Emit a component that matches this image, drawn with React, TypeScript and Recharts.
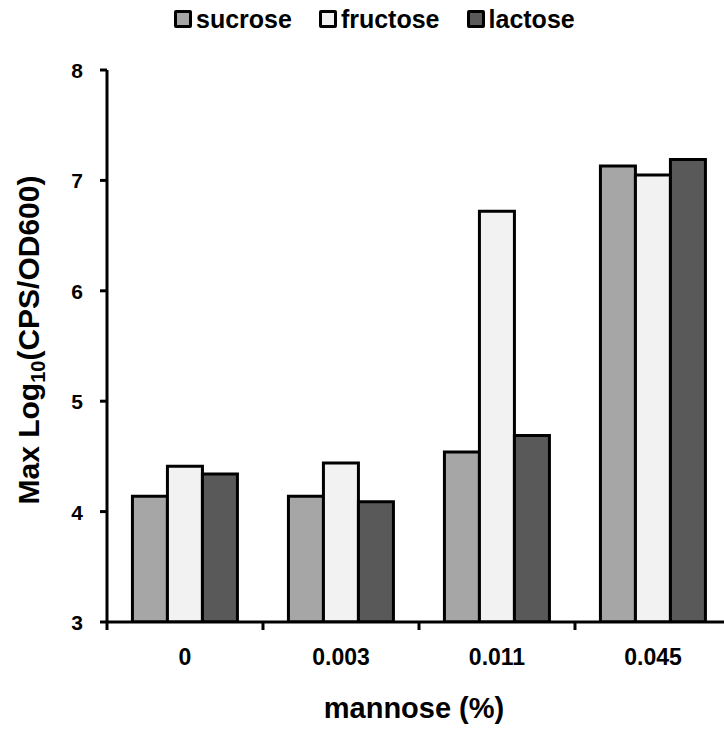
import { BarChart, Bar, XAxis, YAxis } from 'recharts';

const categories = ['0', '0.003', '0.011', '0.045'];
const sucrose = [4.14, 4.14, 4.54, 7.13];
const fructose = [4.41, 4.44, 6.72, 7.05];
const lactose = [4.34, 4.09, 4.69, 7.19];
const yTicks = [3, 4, 5, 6, 7, 8];

const seriesList = [
  { key: 'sucrose', name: 'sucrose', color: '#a6a6a6' },
  { key: 'fructose', name: 'fructose', color: '#f2f2f2' },
  { key: 'lactose', name: 'lactose', color: '#595959' },
];

const font = '"Liberation Sans", Arial, sans-serif';

// one row per mannose concentration
const chartData = categories.map((cat, i) => ({
  cat,
  sucrose: sucrose[i],
  fructose: fructose[i],
  lactose: lactose[i],
}));

// label in the middle of the band, tick mark on the band's left edge
function XTick(props: any) {
  const { x, y, payload } = props;
  const half = payload && payload.offset ? payload.offset : 0;
  return (
    <g>
      <line x1={x - half} x2={x - half} y1={y - 8} y2={y} stroke="#000" strokeWidth={3} />
      <text x={x} y={y + 35} textAnchor="middle" fontFamily={font} fontWeight="bold" fontSize={23} fill="#000">
        {payload.value}
      </text>
    </g>
  );
}

function YTick(props: any) {
  const { x, y, payload } = props;
  return (
    <text x={x} y={y + 8} textAnchor="end" fontFamily={font} fontWeight="bold" fontSize={21} fill="#000">
      {payload.value}
    </text>
  );
}

function LegendBox() {
  return (
    <div
      style={{
        position: 'absolute',
        top: 5,
        left: 174,
        display: 'flex',
        alignItems: 'center',
        fontFamily: font,
        fontWeight: 'bold',
        fontSize: 25,
      }}
    >
      {seriesList.map((s, i) => (
        <div key={s.key} style={{ display: 'flex', alignItems: 'center', marginLeft: i === 0 ? 0 : 27 }}>
          <span
            style={{
              display: 'inline-block',
              width: 12,
              height: 12,
              border: '3px solid #000',
              borderRadius: 2,
              background: s.color,
              marginRight: 4,
            }}
          />
          <span style={{ color: '#000', lineHeight: '28px' }}>{s.name}</span>
        </div>
      ))}
    </div>
  );
}

// axis titles, drawn under the chart svg (which is transparent)
function AxisTitles() {
  return (
    <svg width={724} height={730} style={{ position: 'absolute', left: 0, top: 0 }}>
      <text
        x={39}
        y={340}
        transform="rotate(-90, 39, 340)"
        textAnchor="middle"
        fontFamily={font}
        fontWeight="bold"
        fontSize={30}
        fill="#000"
      >
        <tspan>Max Log</tspan>
        <tspan fontSize={20} dy={6}>10</tspan>
        <tspan dy={-6}>(CPS/OD600)</tspan>
      </text>
      <text x={414} y={718} textAnchor="middle" fontFamily={font} fontWeight="bold" fontSize={29} fill="#000">
        mannose (%)
      </text>
    </svg>
  );
}

export default function App() {
  return (
    <div style={{ position: 'absolute', left: 0, top: 0, width: 724, height: 730, overflow: 'hidden', background: '#fff' }}>
      <AxisTitles />
      <LegendBox />
      <div style={{ position: 'absolute', left: 0, top: 0 }}>
        <BarChart
          width={740}
          height={730}
          data={chartData}
          margin={{ top: 70, right: 9, left: 0, bottom: 8 }}
          barCategoryGap="16.3%"
          barGap={0}
        >
          <XAxis
            dataKey="cat"
            height={100}
            axisLine={{ stroke: '#000', strokeWidth: 3 }}
            tickLine={{ stroke: 'transparent' }}
            tickSize={8}
            tickMargin={0}
            tick={<XTick />}
            interval={0}
          />
          <YAxis
            width={107}
            domain={[3, 8]}
            ticks={yTicks}
            allowDataOverflow
            axisLine={{ stroke: '#000', strokeWidth: 3 }}
            tickLine={{ stroke: '#000', strokeWidth: 3 }}
            tickSize={7}
            tickMargin={17}
            tick={<YTick />}
          />
          {seriesList.map((s) => (
            <Bar key={s.key} dataKey={s.key} fill={s.color} stroke="#000" strokeWidth={3} isAnimationActive={false} />
          ))}
        </BarChart>
      </div>
    </div>
  );
}
